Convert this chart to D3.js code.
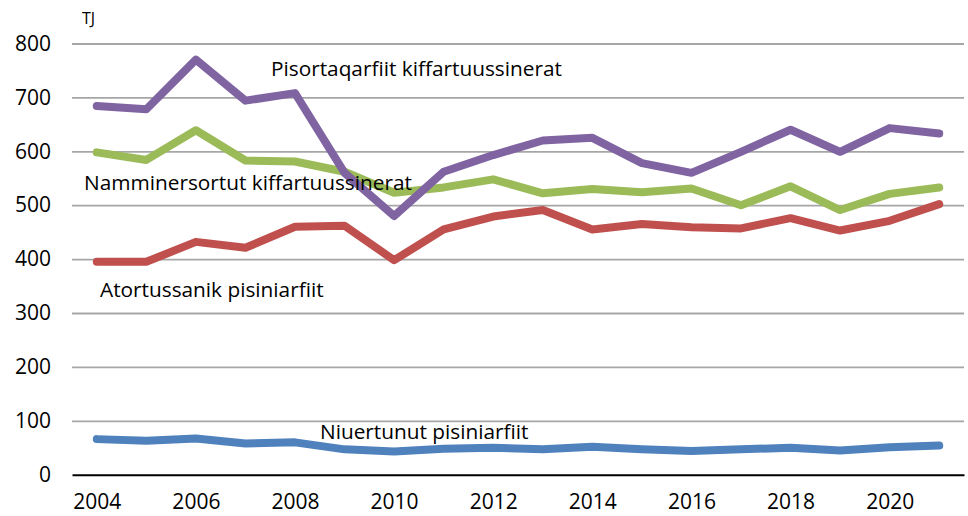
<!DOCTYPE html>
<html>
<head>
<meta charset="utf-8">
<script src="https://cdn.jsdelivr.net/npm/d3@7"></script>
<style>
  body { margin: 0; background: #fff; }
  text { font-family: "Open Sans", sans-serif; fill: #000; }
</style>
</head>
<body>
<div id="chart"></div>
<script>
var years = [2004, 2005, 2006, 2007, 2008, 2009, 2010, 2011, 2012, 2013, 2014, 2015, 2016, 2017, 2018, 2019, 2020, 2021];
var yTicks = [0, 100, 200, 300, 400, 500, 600, 700, 800];
var xTickLabels = [2004, 2006, 2008, 2010, 2012, 2014, 2016, 2018, 2020];

// TJ
var niuertunut = [66, 63, 67, 58, 60, 47, 43, 48, 50, 47, 52, 47, 44, 47, 50, 45, 51, 54];
var atortussanik = [395, 395, 432, 421, 460, 462, 398, 455, 479, 491, 455, 465, 459, 457, 476, 453, 471, 502];
var namminersortut = [598, 584, 639, 583, 581, 562, 523, 533, 548, 522, 530, 524, 531, 500, 535, 491, 521, 533];
var pisortaqarfiit = [684, 678, 770, 694, 708, 560, 480, 562, 593, 620, 625, 578, 560, 599, 640, 599, 643, 633];

var seriesNames = ["Niuertunut pisiniarfiit", "Atortussanik pisiniarfiit", "Namminersortut kiffartuussinerat", "Pisortaqarfiit kiffartuussinerat"];
var seriesValues = [niuertunut, atortussanik, namminersortut, pisortaqarfiit];
var seriesColors = ["#4F81BD", "#C0504D", "#9BBB59", "#8064A2"];

var margin = {top: 43.5, right: 4, bottom: 41.3, left: 72};
var width = 968 - margin.left - margin.right,
    height = 516 - margin.top - margin.bottom;

var svg = d3.select("#chart").append("svg")
    .attr("width", 968)
    .attr("height", 516)
  .append("g")
    .attr("transform", "translate(" + margin.left + "," + margin.top + ")");

var xScale = d3.scalePoint()
    .domain(years)
    .range([0, width])
    .padding(0.5);

var yScale = d3.scaleLinear()
    .domain([0, 800])
    .range([height, 0]);

// gridlines + y labels
var yAxis = svg.append("g")
    .attr("class", "y axis")
    .call(d3.axisLeft(yScale).tickValues(yTicks).tickSize(-width).tickPadding(21));
yAxis.select(".domain").remove();
yAxis.selectAll(".tick line").attr("stroke", "#a6a6a6").attr("stroke-width", 1.8);
yAxis.selectAll(".tick text").style("font-size", "21px").attr("fill", "#000");
yAxis.selectAll(".tick").filter(function(d) { return d === 0; }).select("line").remove();

// x axis
var xAxis = svg.append("g")
    .attr("class", "x axis")
    .attr("transform", "translate(0," + height + ")")
    .call(d3.axisBottom(xScale).tickValues(xTickLabels).tickSize(0).tickPadding(19).tickSizeOuter(0));
xAxis.select(".domain").attr("stroke", "#000").attr("stroke-width", 2);
xAxis.selectAll(".tick text").style("font-size", "21px").attr("fill", "#000");

// lines
var line = d3.line()
    .x(function(d, i) { return xScale(years[i]); })
    .y(function(d) { return yScale(d); });

svg.selectAll(".serie")
    .data(seriesValues)
    .enter().append("path")
      .attr("class", "serie")
      .attr("fill", "none")
      .attr("stroke", function(d, i) { return seriesColors[i]; })
      .attr("stroke-width", 8)
      .attr("stroke-linejoin", "round")
      .attr("stroke-linecap", "round")
      .attr("d", line);

// series labels
var labelPos = [
  {x: 320, y: 439},
  {x: 100, y: 297},
  {x: 84, y: 190},
  {x: 271, y: 76}
];
svg.selectAll(".label")
    .data(seriesNames)
    .enter().append("text")
      .attr("class", "label")
      .attr("x", function(d, i) { return labelPos[i].x - margin.left; })
      .attr("y", function(d, i) { return labelPos[i].y - margin.top; })
      .style("font-size", "20.8px")
      .text(function(d) { return d; });

// unit
svg.append("text")
    .attr("x", 82 - margin.left)
    .attr("y", 24 - margin.top)
    .style("font-size", "16px")
    .text("TJ");
</script>
</body>
</html>
